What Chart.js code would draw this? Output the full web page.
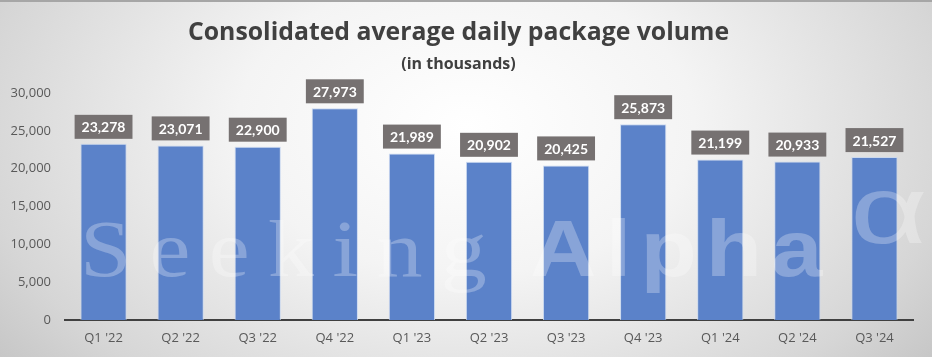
<!DOCTYPE html>
<html>
<head>
<meta charset="utf-8">
<script src="https://cdn.jsdelivr.net/npm/chart.js@4.4.1/dist/chart.umd.min.js"></script>
<style>
  html, body { margin: 0; padding: 0; }
  body {
    width: 932px; height: 357px; overflow: hidden;
    background: radial-gradient(ellipse 70% 120% at 50% 35%, #ffffff 0%, #f4f4f4 35%, #d6d6d6 75%, #bcbcbc 100%);
  }
  #wrap { position: relative; width: 932px; height: 357px; }
  #topline { position: absolute; left: 0; top: 0; width: 932px; height: 2px; background: #a6a6a6; }
  canvas { display: block; }
</style>
</head>
<body>
<div id="wrap"><canvas id="c" width="932" height="357"></canvas><div id="topline"></div></div>
<script>
const categories = ["Q1 '22", "Q2 '22", "Q3 '22", "Q4 '22", "Q1 '23", "Q2 '23", "Q3 '23", "Q4 '23", "Q1 '24", "Q2 '24", "Q3 '24"];
const volumes = [23278, 23071, 22900, 27973, 21989, 20902, 20425, 25873, 21199, 20933, 21527];
const titleText = "Consolidated average daily package volume";
const subtitleText = "(in thousands)";
const watermarkWord1 = "Seeking";
const watermarkWord2 = "Alpha";
const watermarkSymbol = "\u03B1";

const fmt = v => v.toLocaleString('en-US');

const watermarkPlugin = {
  id: 'watermark',
  afterDatasetsDraw(chart) {
    const ctx = chart.ctx;
    ctx.save();
    ctx.fillStyle = 'rgba(255,255,255,0.28)';
    ctx.textBaseline = 'alphabetic';
    ctx.textAlign = 'left';
    ctx.save();
    ctx.translate(80, 276);
    ctx.scale(1.15, 1);
    ctx.font = '80px "Liberation Serif", "DejaVu Serif", serif';
    ctx.letterSpacing = '16px';
    ctx.fillText(watermarkWord1, 0, 0);
    ctx.restore();
    ctx.save();
    ctx.translate(530, 276);
    ctx.scale(1.15, 1);
    ctx.font = 'bold 80px "Liberation Sans", Arial, sans-serif';
    ctx.letterSpacing = '8px';
    ctx.fillText(watermarkWord2, 0, 0);
    ctx.restore();
    ctx.save();
    ctx.translate(850, 243);
    ctx.scale(1.4, 1);
    ctx.font = '96px "Liberation Sans", Arial, sans-serif';
    ctx.fillText(watermarkSymbol, 0, 0);
    ctx.restore();
    ctx.restore();
  }
};

const labelPlugin = {
  id: 'boxLabels',
  afterDatasetsDraw(chart) {
    const ctx = chart.ctx;
    const meta = chart.getDatasetMeta(0);
    ctx.save();
    ctx.font = 'bold 14px Lato, "Open Sans", sans-serif';
    ctx.textAlign = 'center';
    ctx.textBaseline = 'middle';
    meta.data.forEach((bar, i) => {
      const txt = fmt(chart.data.datasets[0].data[i]);
      const w = ctx.measureText(txt).width + 14;
      const h = 24;
      const x = bar.x - w / 2;
      const y = bar.y - 5 - h;
      ctx.fillStyle = '#767171';
      ctx.fillRect(x, y, w, h);
      ctx.fillStyle = '#ffffff';
      ctx.fillText(txt, bar.x, y + h / 2 + 1);
    });
    ctx.restore();
  }
};

new Chart(document.getElementById('c'), {
  type: 'bar',
  data: {
    labels: categories,
    datasets: [{
      data: volumes,
      backgroundColor: '#5b82c9',
      borderColor: 'rgba(200,215,240,0.9)',
      borderWidth: 1,
      barPercentage: 0.6,
      categoryPercentage: 1.0
    }]
  },
  options: {
    responsive: false,
    animation: false,
    devicePixelRatio: 1,
    layout: { padding: { left: 4, right: 19, top: 0, bottom: 0 } },
    plugins: {
      legend: { display: false },
      tooltip: { enabled: false },
      title: {
        display: true,
        text: titleText,
        color: '#404040',
        font: { family: '"Open Sans"', size: 24.8, weight: 'bold' },
        padding: { top: 18, bottom: 7 }
      },
      subtitle: {
        display: true,
        text: subtitleText,
        color: '#404040',
        font: { family: '"Open Sans"', size: 16, weight: 'bold' },
        padding: { top: 0, bottom: 19 }
      }
    },
    scales: {
      x: {
        afterFit(scale) { scale.height = 37; },
        grid: { display: false, drawTicks: false },
        border: { display: true, color: '#404040', width: 2 },
        ticks: { color: '#595959', font: { family: '"Open Sans"', size: 13 }, padding: 10 }
      },
      y: {
        min: 0, max: 30000,
        afterFit(scale) { scale.width = 61; },
        grid: { display: false, drawTicks: false },
        border: { display: false },
        ticks: {
          stepSize: 5000,
          color: '#595959',
          font: { family: '"Open Sans"', size: 13 },
          padding: 14,
          callback: v => fmt(v)
        }
      }
    }
  },
  plugins: [watermarkPlugin, labelPlugin]
});
</script>
</body>
</html>
